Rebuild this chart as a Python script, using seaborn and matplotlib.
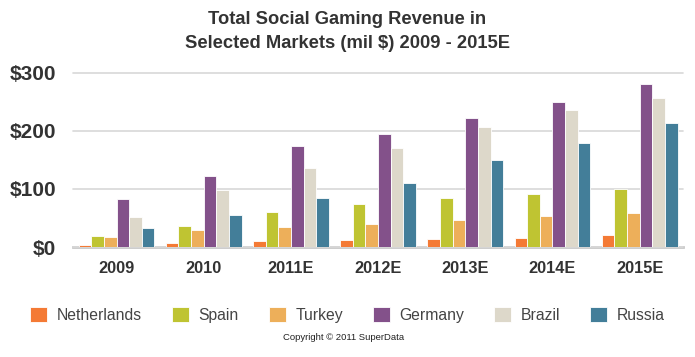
import pandas as pd
import matplotlib.pyplot as plt
import seaborn as sns

years = ["2009", "2010", "2011E", "2012E", "2013E", "2014E", "2015E"]
markets = ["Netherlands", "Spain", "Turkey", "Germany", "Brazil", "Russia"]
netherlands = [4, 7, 10, 12, 14, 15, 20]
spain = [19, 36, 60, 74, 85, 91, 100]
turkey = [18, 29, 34, 40, 46, 53, 59]
germany = [83, 122, 174, 194, 223, 249, 280]
brazil = [51, 99, 136, 170, 206, 236, 256]
russia = [32, 55, 85, 110, 150, 180, 214]
colors = ["#F47A35", "#BFC432", "#EDAF5A", "#83518A", "#DDD8CA", "#437E99"]
y_ticks = [0, 100, 200, 300]

series = [netherlands, spain, turkey, germany, brazil, russia]
df = pd.DataFrame(
    [(y, m, v) for m, vals in zip(markets, series) for y, v in zip(years, vals)],
    columns=["year", "market", "revenue"],
)

sns.set_style("white")
plt.rcParams["font.family"] = ["Liberation Sans", "DejaVu Sans"]

fig = plt.figure(figsize=(6.95, 3.57), dpi=100)
ax = fig.add_axes([0.105, 0.308, 0.878, 0.488])

sns.barplot(data=df, x="year", y="revenue", hue="market", order=years,
            hue_order=markets, palette=colors, width=0.87, saturation=1,
            edgecolor="white", linewidth=0.6, ax=ax, legend=True)

ax.set_ylim(0, 300)
ax.set_xlim(-0.5, len(years) - 0.5)
ax.set_yticks(y_ticks)
ax.set_yticklabels([f"${t}" for t in y_ticks], fontsize=15, fontweight="bold",
                   color="#333333")
ax.tick_params(axis="x", labelsize=11.8, labelcolor="#333333", length=0, pad=10)
ax.tick_params(axis="y", length=0, pad=12)
for lab in ax.get_xticklabels():
    lab.set_fontweight("bold")
ax.yaxis.grid(True, color="#d8d8d8", linewidth=1.2)
ax.set_axisbelow(True)
for s in ["top", "right", "left"]:
    ax.spines[s].set_visible(False)
ax.spines["bottom"].set_color("#c8c8c8")
ax.spines["bottom"].set_linewidth(2)
ax.spines["bottom"].set_zorder(0.5)
ax.set_xlabel("")
ax.set_ylabel("")
for line in ax.get_ygridlines():
    line.set_clip_on(False)

handles, labels = ax.get_legend_handles_labels()
ax.legend_.remove()
fig.legend(handles, labels, loc="center", bbox_to_anchor=(0.5, 0.117), ncol=6,
           frameon=False, fontsize=11.3, handlelength=1.1, handleheight=1.1,
           handletextpad=0.6, columnspacing=1.9, labelcolor="#444444")

fig.text(0.5, 0.912, "Total Social Gaming Revenue in\nSelected Markets (mil $) 2009 - 2015E",
         ha="center", va="center", fontsize=13.2, fontweight="bold",
         color="#333333", linespacing=1.5)
fig.text(0.495, 0.056, "Copyright \u00a9 2011 SuperData", ha="center", va="center",
         fontsize=6.8, color="#222222")

fig.savefig("out.png", dpi=100)
